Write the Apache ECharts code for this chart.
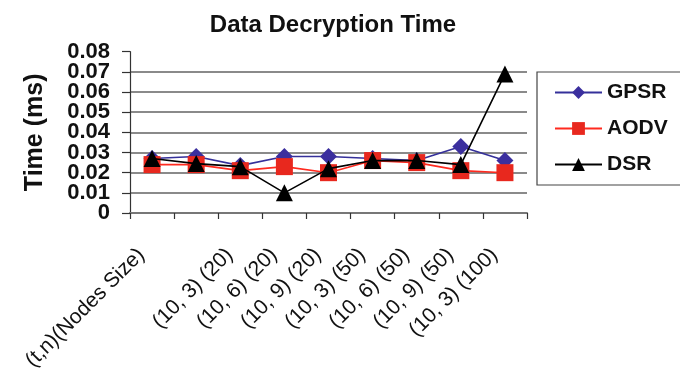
<!DOCTYPE html>
<html>
<head>
<meta charset="utf-8">
<script src="https://cdn.jsdelivr.net/npm/echarts@6/dist/echarts.min.js"></script>
<style>
html,body{margin:0;padding:0;background:#fff;}
#chart{width:680px;height:368px;}
</style>
</head>
<body>
<div id="chart"></div>
<script>
var categories = ["(t,n)(Nodes Size)", "", "(10, 3) (20)", "(10, 6) (20)", "(10, 9) (20)", "(10, 3) (50)", "(10, 6) (50)", "(10, 9) (50)", "(10, 3) (100)"];
var gpsr = [0.027, 0.028, 0.0235, 0.028, 0.028, 0.027, 0.026, 0.033, 0.026];
var aodv = [0.024, 0.024, 0.021, 0.023, 0.020, 0.026, 0.025, 0.021, 0.020];
var dsr  = [0.027, 0.0245, 0.023, 0.010, 0.022, 0.026, 0.026, 0.024, 0.069];
var yTicks = [0, 0.01, 0.02, 0.03, 0.04, 0.05, 0.06, 0.07, 0.08];

var font = "'Liberation Sans', Arial, sans-serif";
var chart = echarts.init(document.getElementById('chart'), null, {renderer: 'canvas'});
var gridColors = yTicks.map(function (v, i) { return i === yTicks.length - 1 ? 'rgba(0,0,0,0)' : '#8a8a8a'; });

function tickLabel(parity) {
  return function (v) {
    var k = Math.round(v * 100);
    return (k % 2 === parity) ? String(+v.toFixed(2)) : '';
  };
}
var yLabelStyle = {fontFamily: font, fontWeight: 'bold', fontSize: 22, color: '#111'};

chart.setOption({
  animation: false,
  backgroundColor: '#ffffff',
  title: {
    text: 'Data Decryption Time',
    left: 328, top: 8, textAlign: 'center',
    textStyle: {fontFamily: font, fontWeight: 'bold', fontSize: 24, color: '#111'}
  },
  legend: {
    orient: 'vertical',
    left: 537, top: 72,
    padding: [10, 80, 10, 17],
    itemGap: 15,
    itemWidth: 47, itemHeight: 16,
    borderColor: '#444', borderWidth: 1.2,
    textStyle: {fontFamily: font, fontWeight: 'bold', fontSize: 21, color: '#111'},
    data: ['GPSR', 'AODV', 'DSR']
  },
  grid: {left: 130, right: 153, top: 51.7, bottom: 155, containLabel: false, outerBoundsMode: 'none'},
  xAxis: {
    type: 'category',
    data: categories,
    boundaryGap: true,
    axisLine: {lineStyle: {color: '#777', width: 2}},
    axisTick: {show: true, alignWithLabel: false, interval: 0, length: 6, inside: false, lineStyle: {color: '#333', width: 1.2}},
    axisLabel: {interval: 0, rotate: 45, margin: 28, padding: [0, 15, 0, 0], fontFamily: font, fontSize: 21, color: '#111'},
    splitLine: {show: false}
  },
  yAxis: [
    {
      type: 'value', position: 'left',
      min: 0, max: 0.08, interval: 0.01,
      name: 'Time (ms)',
      nameLocation: 'middle', nameRotate: 90, nameGap: 82,
      nameTextStyle: {fontFamily: font, fontWeight: 'bold', fontSize: 25, color: '#111'},
      axisLine: {show: true, lineStyle: {color: '#333', width: 1.2}},
      axisTick: {show: true, length: 8, lineStyle: {color: '#333', width: 1.2}},
      axisLabel: Object.assign({margin: 20, showMinLabel: true, showMaxLabel: true, formatter: tickLabel(0)}, yLabelStyle),
      splitLine: {show: true, lineStyle: {color: gridColors, width: 2}}
    },
    {
      type: 'value', position: 'left', offset: 0,
      min: 0, max: 0.08, interval: 0.01,
      axisLine: {show: false},
      axisTick: {show: false},
      axisLabel: Object.assign({margin: 20, showMinLabel: true, showMaxLabel: true, formatter: tickLabel(1)}, yLabelStyle),
      splitLine: {show: false}
    }
  ],
  series: [
    {
      name: 'GPSR', type: 'line', data: gpsr, yAxisIndex: 0,
      symbol: 'diamond', symbolSize: 17,
      lineStyle: {color: '#35309a', width: 1.6},
      itemStyle: {color: '#3b2f9e'},
      z: 2
    },
    {
      name: 'AODV', type: 'line', data: aodv, yAxisIndex: 0,
      symbol: 'rect', symbolSize: 17,
      lineStyle: {color: '#ff2a1f', width: 1.6},
      itemStyle: {color: '#e8281e'},
      z: 3
    },
    {
      name: 'DSR', type: 'line', data: dsr, yAxisIndex: 0,
      symbol: 'triangle', symbolSize: 17,
      lineStyle: {color: '#000', width: 1.6},
      itemStyle: {color: '#000'},
      z: 4
    }
  ]
});
</script>
</body>
</html>
